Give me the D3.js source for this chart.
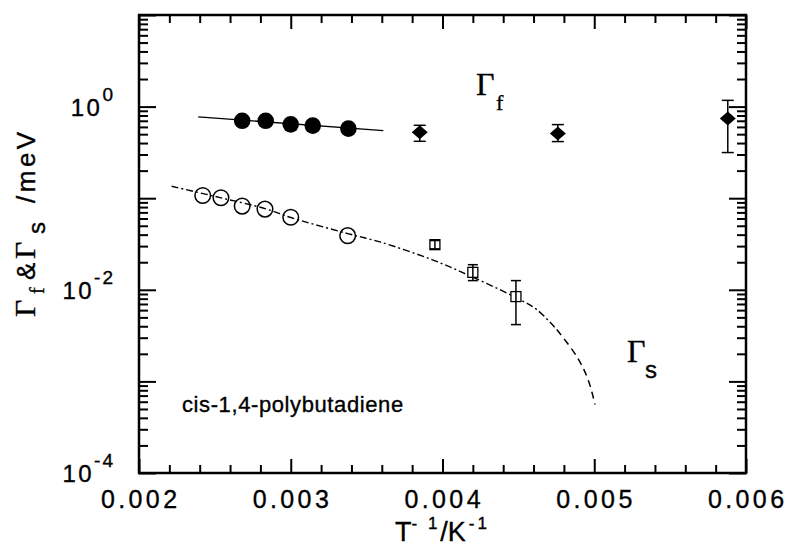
<!DOCTYPE html>
<html>
<head>
<meta charset="utf-8">
<script src="https://cdn.jsdelivr.net/npm/d3@7"></script>
<style>
  body { margin: 0; background: #fff; }
  svg { display: block; }
  text { stroke: #000; stroke-width: 0.35px; }
</style>
</head>
<body>
<div id="graphe"></div>
<script>
// Gamma_f : cercles pleins
var fastX = [0.00268, 0.002835, 0.0030, 0.003145, 0.00338];
var fastY = [0.70, 0.70, 0.64, 0.62, 0.575];
// droite sur les cercles pleins
var fastFitX = [0.00239, 0.00361];
var fastFitY = [0.772, 0.547];
// losanges avec barres d'erreur
var diaX = [0.00385, 0.00476, 0.00588];
var diaY = [0.524, 0.507, 0.74];
var diaLo = [0.418, 0.415, 0.315];
var diaHi = [0.625, 0.636, 1.17];

// Gamma_s : cercles vides
var slowX = [0.00242, 0.00254, 0.00268, 0.00283, 0.0030, 0.003375];
var slowY = [0.107, 0.101, 0.082, 0.076, 0.062, 0.039];
// carres avec barres d'erreur
var sqX = [0.00395, 0.0042, 0.004484];
var sqY = [0.0311, 0.0155, 0.00843];
var sqLo = [0.0280, 0.0126, 0.00417];
var sqHi = [0.0345, 0.0188, 0.0126];
// courbe tiret-point
var curveX = [0.002215, 0.002534, 0.00283, 0.0030, 0.003375, 0.003588, 0.003929, 0.004137, 0.004467, 0.004621, 0.004753, 0.004884, 0.004959, 0.005005];
var curveY = [0.135, 0.1015, 0.077, 0.0615, 0.0411, 0.0333, 0.0214, 0.0153, 0.00849, 0.00608, 0.00368, 0.00188, 0.00105, 0.000558];
var curveSplit = 10; // a partir d'ici la courbe est en tirets

// axes
var xDomain = [0.002, 0.006];
var xMajor = [0.002, 0.003, 0.004, 0.005, 0.006];
var yDomain = [1e-4, 1e1];
var yMajor = [1e-4, 1e-3, 1e-2, 1e-1, 1e0, 1e1];
var yLabels = [[1e0, "0"], [1e-2, "-2"], [1e-4, "-4"]];

var W = 788, H = 555;
var pLeft = 139, pTop = 15, pRight = 746, pBottom = 473;
var sans = "'Liberation Sans', Arial, Helvetica, sans-serif";
var serif = "'Liberation Serif', 'Times New Roman', serif";

var svg = d3.select("#graphe").append("svg")
    .attr("width", W)
    .attr("height", H);

var x = d3.scaleLinear().domain(xDomain).range([pLeft, pRight]);
var y = d3.scaleLog().domain(yDomain).range([pBottom, pTop]);

// ticks mineurs
var xMinor = d3.range(0, 21).map(function(i) { return +(0.002 + i * 0.0002).toFixed(5); })
    .filter(function(v) { return xMajor.indexOf(v) < 0; });
var yMinor = [];
for (var e = -4; e < 1; e++) {
    for (var k = 2; k <= 9; k++) yMinor.push(k * Math.pow(10, e));
}

function tickStyle(g) {
    g.select(".domain").remove();
    g.selectAll(".tick line").attr("stroke", "#000").attr("stroke-width", 2);
    g.selectAll(".tick text").remove();
}

var axes = [
    [d3.axisBottom, x, "translate(0," + pBottom + ")", xMajor, xMinor, 14, 8],
    [d3.axisTop, x, "translate(0," + pTop + ")", xMajor, xMinor, 14, 8],
    [d3.axisLeft, y, "translate(" + pLeft + ",0)", yMajor, yMinor, 17, 9],
    [d3.axisRight, y, "translate(" + pRight + ",0)", yMajor, yMinor, 17, 9]
];
axes.forEach(function(a) {
    svg.append("g").attr("transform", a[2])
        .call(a[0](a[1]).tickValues(a[4]).tickSize(-a[6]).tickFormat(""))
        .call(tickStyle);
    svg.append("g").attr("transform", a[2])
        .call(a[0](a[1]).tickValues(a[3]).tickSize(-a[5]).tickFormat(""))
        .call(tickStyle);
});

// cadre
svg.append("rect")
    .attr("x", pLeft).attr("y", pTop)
    .attr("width", pRight - pLeft).attr("height", pBottom - pTop)
    .attr("fill", "none").attr("stroke", "#000").attr("stroke-width", 2.5);

// labels x
svg.selectAll(".xlab").data(xMajor).enter().append("text")
    .attr("x", function(d) { return x(d) + 1.7; })
    .attr("y", 508)
    .attr("text-anchor", "middle")
    .attr("font-family", sans).attr("font-size", 25)
    .attr("letter-spacing", 3.4)
    .text(d3.format(".3f"));

// labels y (10 puissance)
yLabels.forEach(function(l) {
    var t = svg.append("text")
        .attr("x", 115).attr("y", y(l[0]) + 9)
        .attr("text-anchor", "end")
        .attr("font-family", sans).attr("font-size", 24)
        .attr("letter-spacing", 2.5);
    t.append("tspan").text("10");
    t.append("tspan").attr("dy", -15).attr("font-size", 19).attr("letter-spacing", 2).text(l[1]);
});

// titre x
var tx = svg.append("text").attr("x", 395).attr("y", 541)
    .attr("font-family", sans).attr("font-size", 27);
tx.append("tspan").text("T");
tx.append("tspan").attr("dy", -12).attr("font-size", 17).attr("letter-spacing", 3).text("- 1");
tx.append("tspan").attr("dy", 12).text("/K");
tx.append("tspan").attr("dy", -12).attr("font-size", 17).attr("dx", 3).attr("letter-spacing", 3).text("-1");

// titre y (tourne)
var ty = svg.append("g").attr("transform", "translate(35,317) rotate(-90)");
ty.append("text").attr("x", 0).attr("font-family", serif).attr("font-size", 30).text("\u0393");
ty.append("text").attr("x", 23).attr("y", 9).attr("font-family", serif).attr("font-size", 20).text("f");
ty.append("text").attr("x", 37).attr("font-family", sans).attr("font-size", 26).text("&");
ty.append("text").attr("x", 58).attr("font-family", serif).attr("font-size", 30).text("\u0393");
ty.append("text").attr("x", 83).attr("y", 10).attr("font-family", sans).attr("font-size", 24).text("s");
ty.append("text").attr("x", 114).attr("font-family", sans).attr("font-size", 26)
    .attr("letter-spacing", 3.5).text("/meV");

// droite Gamma_f
var line = d3.line().x(function(d) { return x(d[0]); }).y(function(d) { return y(d[1]); });
svg.append("path")
    .attr("d", line(d3.zip(fastFitX, fastFitY)))
    .attr("fill", "none").attr("stroke", "#000").attr("stroke-width", 1.3);

// courbe Gamma_s
var curvePts = d3.zip(curveX, curveY);
var smooth = d3.line().curve(d3.curveCatmullRom.alpha(0.5))
    .x(function(d) { return x(d[0]); }).y(function(d) { return y(d[1]); });
svg.append("path")
    .attr("d", smooth(curvePts.slice(0, curveSplit + 1)))
    .attr("fill", "none").attr("stroke", "#000").attr("stroke-width", 1.4)
    .attr("stroke-dasharray", "7,3,2,3");
svg.append("path")
    .attr("d", smooth(curvePts.slice(curveSplit)))
    .attr("fill", "none").attr("stroke", "#000").attr("stroke-width", 1.5)
    .attr("stroke-dasharray", "7,5");

// cercles pleins
svg.selectAll(".fast").data(d3.zip(fastX, fastY)).enter().append("circle")
    .attr("cx", function(d) { return x(d[0]); })
    .attr("cy", function(d) { return y(d[1]); })
    .attr("r", 8.3).attr("fill", "#000");

// cercles vides
svg.selectAll(".slow").data(d3.zip(slowX, slowY)).enter().append("circle")
    .attr("cx", function(d) { return x(d[0]); })
    .attr("cy", function(d) { return y(d[1]); })
    .attr("r", 7.8).attr("fill", "none").attr("stroke", "#000").attr("stroke-width", 1.5);

// barres d'erreur
function errBars(xs, lo, hi, cap) {
    xs.forEach(function(v, i) {
        var cx = x(v);
        var g = svg.append("g").attr("stroke", "#000").attr("stroke-width", 1.5);
        g.append("line").attr("x1", cx).attr("x2", cx).attr("y1", y(lo[i])).attr("y2", y(hi[i]));
        g.append("line").attr("x1", cx - cap).attr("x2", cx + cap).attr("y1", y(lo[i])).attr("y2", y(lo[i]));
        g.append("line").attr("x1", cx - cap).attr("x2", cx + cap).attr("y1", y(hi[i])).attr("y2", y(hi[i]));
    });
}

// losanges
errBars(diaX, diaLo, diaHi, 6);
svg.selectAll(".dia").data(d3.zip(diaX, diaY)).enter().append("path")
    .attr("d", function(d) {
        var cx = x(d[0]), cy = y(d[1]);
        return "M" + (cx - 8) + "," + cy + "L" + cx + "," + (cy - 7) +
            "L" + (cx + 8) + "," + cy + "L" + cx + "," + (cy + 7) + "Z";
    })
    .attr("fill", "#000");

// carres
svg.selectAll(".sq").data(d3.zip(sqX, sqY)).enter().append("rect")
    .attr("x", function(d) { return x(d[0]) - 5; })
    .attr("y", function(d) { return y(d[1]) - 5; })
    .attr("width", 10).attr("height", 10)
    .attr("fill", "#fff").attr("stroke", "#000").attr("stroke-width", 1.3);
errBars(sqX, sqLo, sqHi, 5);

// annotations
svg.append("text").attr("x", 476).attr("y", 95).attr("font-family", serif).attr("font-size", 32).text("\u0393");
svg.append("text").attr("x", 496).attr("y", 110).attr("font-family", serif).attr("font-size", 22).text("f");
svg.append("text").attr("x", 627).attr("y", 362).attr("font-family", serif).attr("font-size", 32).text("\u0393");
svg.append("text").attr("x", 645).attr("y", 378).attr("font-family", sans).attr("font-size", 24).text("s");

svg.append("text").attr("x", 182).attr("y", 412)
    .attr("font-family", sans).attr("font-size", 22).attr("letter-spacing", 0.6)
    .text("cis-1,4-polybutadiene");
</script>
</body>
</html>
